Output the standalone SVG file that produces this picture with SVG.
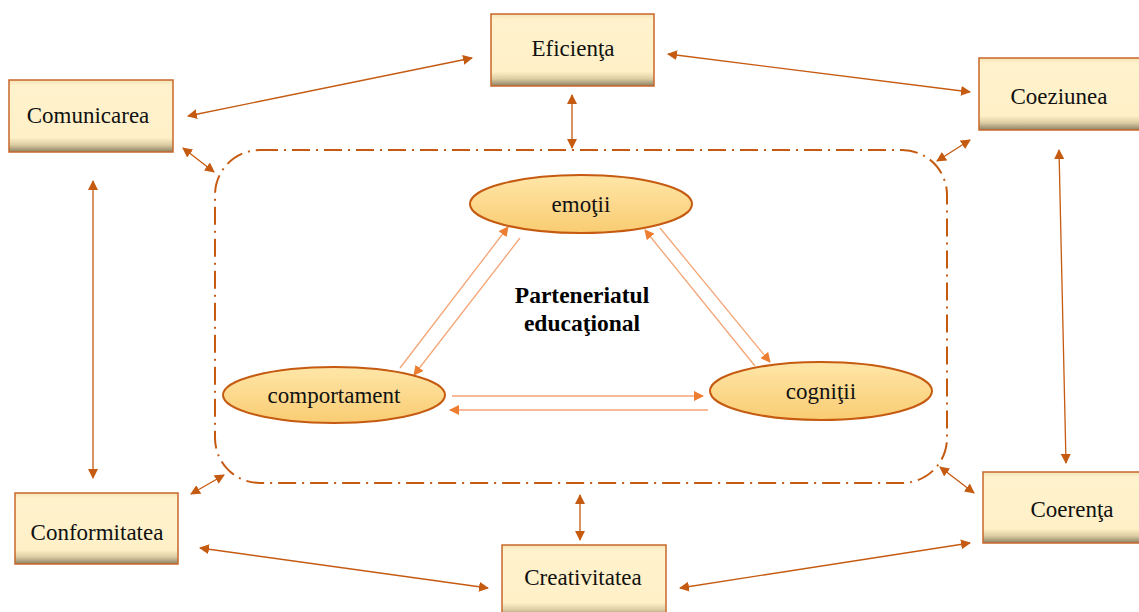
<svg xmlns="http://www.w3.org/2000/svg" width="1139" height="612" viewBox="0 0 1139 612">
<defs>
<linearGradient id="boxg" x1="0" y1="0" x2="0" y2="1">
<stop offset="0" stop-color="#F6E3B6"/>
<stop offset="0.08" stop-color="#FFF2CC"/>
<stop offset="0.8" stop-color="#FFF0C8"/>
<stop offset="0.9" stop-color="#DCCDA3"/>
<stop offset="1" stop-color="#8C8062"/>
</linearGradient>
<linearGradient id="ellg" x1="0" y1="0" x2="0" y2="1">
<stop offset="0" stop-color="#FFE6A8"/>
<stop offset="1" stop-color="#F9CC72"/>
</linearGradient>
<marker id="ah" viewBox="0 0 10 10" refX="9" refY="5" markerWidth="10" markerHeight="10" markerUnits="userSpaceOnUse" orient="auto-start-reverse">
<path d="M0,0 L10,5 L0,10 z" fill="#C55A11"/>
</marker>
<marker id="ahi" viewBox="0 0 10 10" refX="9" refY="5" markerWidth="10" markerHeight="10" markerUnits="userSpaceOnUse" orient="auto-start-reverse">
<path d="M0,0 L10,5 L0,10 z" fill="#ED7D31"/>
</marker>
</defs>
<style>
.box{fill:url(#boxg);stroke:#C8672A;stroke-width:1.5}
.ell{fill:url(#ellg);stroke:#C55A11;stroke-width:2}
.t{font-family:"Liberation Serif","Times New Roman",serif;font-size:23px;fill:#111;text-anchor:middle}
.tb{font-family:"Liberation Serif","Times New Roman",serif;font-size:23.5px;font-weight:bold;fill:#000;text-anchor:middle}
.oc{stroke:#C55A11;stroke-width:1.3;fill:none;marker-start:url(#ah);marker-end:url(#ah)}
.ic{stroke:#F4A574;stroke-width:1.3;fill:none;marker-end:url(#ahi)}
.frame{fill:none;stroke:#C55A11;stroke-width:2;stroke-dasharray:18 6 2 6}
</style>
<rect width="1139" height="612" fill="#FFFFFF"/>
<g id="frame"><rect class="frame" x="215" y="150" width="732" height="333" rx="45" ry="45"/></g>
<g id="connectors">
<line class="oc" x1="472" y1="58" x2="188" y2="116"/>
<line class="oc" x1="668" y1="54" x2="970" y2="92"/>
<line class="oc" x1="572" y1="95" x2="572" y2="148"/>
<line class="oc" x1="183" y1="148" x2="214" y2="172"/>
<line class="oc" x1="93" y1="181" x2="93" y2="478"/>
<line class="oc" x1="970" y1="140" x2="937" y2="161"/>
<line class="oc" x1="1059" y1="150" x2="1066" y2="463"/>
<line class="oc" x1="940" y1="467" x2="974" y2="493"/>
<line class="oc" x1="224" y1="475" x2="191" y2="494"/>
<line class="oc" x1="200" y1="548" x2="488" y2="588"/>
<line class="oc" x1="580" y1="495" x2="580" y2="540"/>
<line class="oc" x1="680" y1="588" x2="970" y2="543"/>
<line class="ic" x1="400" y1="368" x2="508" y2="227"/>
<line class="ic" x1="520" y1="238" x2="414" y2="375"/>
<line class="ic" x1="755" y1="366" x2="645" y2="230"/>
<line class="ic" x1="660" y1="228" x2="770" y2="362"/>
<line class="ic" x1="452" y1="396" x2="703" y2="396"/>
<line class="ic" x1="708" y1="410" x2="450" y2="410"/>
</g>
<g id="eficienta"><rect class="box" x="491" y="14" width="163" height="72"/><text class="t" x="573" y="56">Eficienţa</text></g>
<g id="comunicarea"><rect class="box" x="9" y="80" width="164" height="72"/><text class="t" x="88" y="123">Comunicarea</text></g>
<g id="coeziunea"><rect class="box" x="979" y="58" width="162" height="72"/><text class="t" x="1059" y="104">Coeziunea</text></g>
<g id="coerenta"><rect class="box" x="983" y="472" width="158" height="71"/><text class="t" x="1072" y="517">Coerenţa</text></g>
<g id="conformitatea"><rect class="box" x="15" y="493" width="163" height="71"/><text class="t" x="97" y="540">Conformitatea</text></g>
<g id="creativitatea"><rect class="box" x="502" y="545" width="164" height="72"/><text class="t" x="583" y="585">Creativitatea</text></g>
<g id="emotii"><ellipse class="ell" cx="581" cy="204" rx="111" ry="29"/><text class="t" x="581" y="212">emoţii</text></g>
<g id="comportament"><ellipse class="ell" cx="334" cy="395" rx="111" ry="28"/><text class="t" x="334" y="403">comportament</text></g>
<g id="cognitii"><ellipse class="ell" cx="821" cy="391" rx="111" ry="29"/><text class="t" x="821" y="399">cogniţii</text></g>
<g id="center"><text class="tb" x="582" y="303">Parteneriatul</text><text class="tb" x="582" y="331">educaţional</text></g>
</svg>
